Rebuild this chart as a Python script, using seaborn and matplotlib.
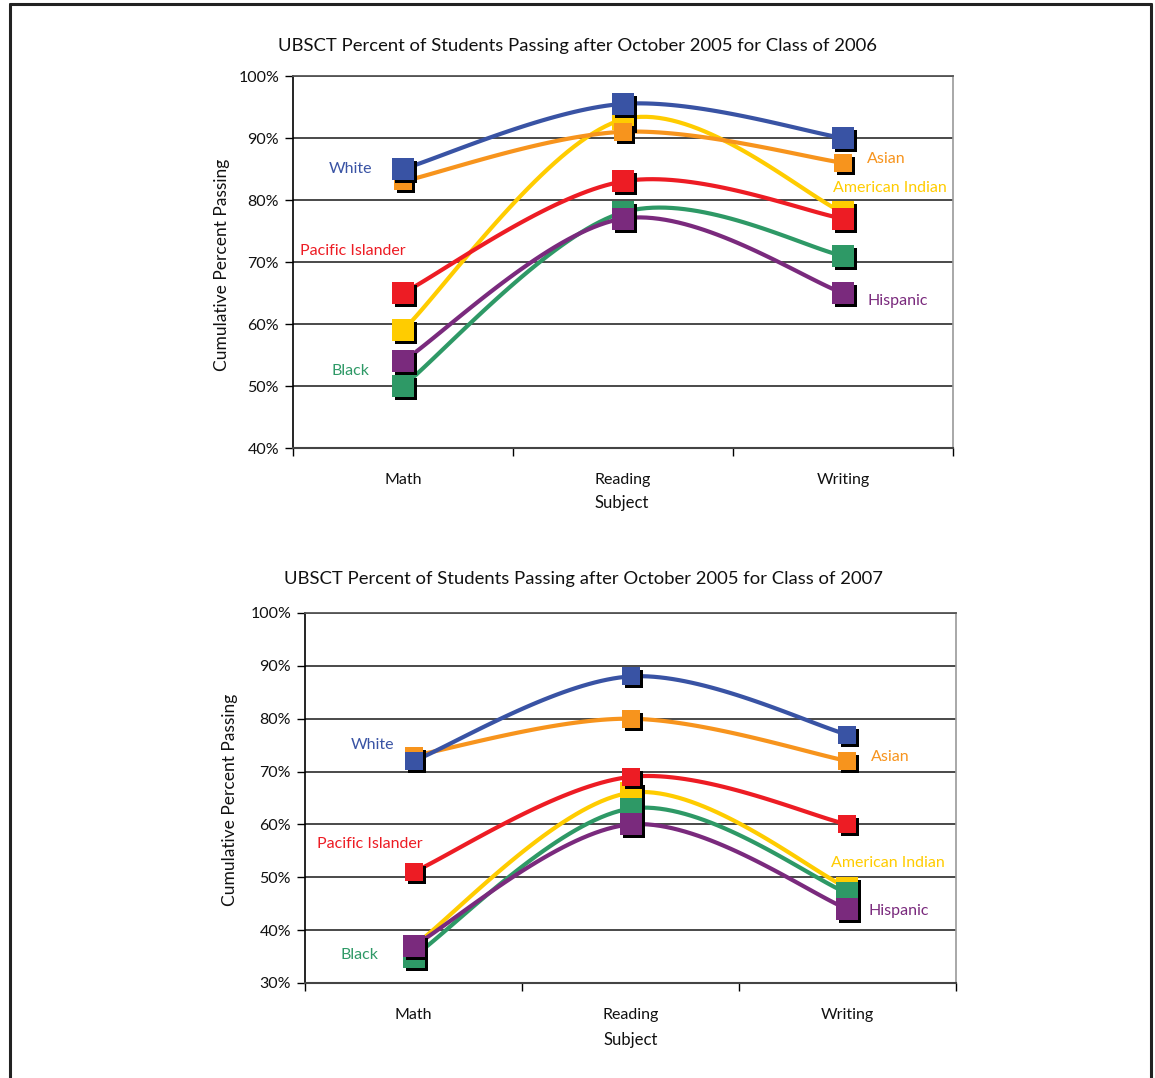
import numpy as np
import pandas as pd
import matplotlib
matplotlib.use("Agg")
import matplotlib.pyplot as plt
from matplotlib.lines import Line2D
from matplotlib.transforms import offset_copy
from matplotlib.ticker import FixedLocator, FuncFormatter
import seaborn as sns

sns.set_theme(style="white")
plt.rcParams["font.family"] = ["Lato", "DejaVu Sans"]

# ---- data ----------------------------------------------------------------
subjects = ["Math", "Reading", "Writing"]
groups = ["American Indian", "Asian", "Black", "Hispanic", "Pacific Islander", "White"]

class_2006 = {
    "American Indian": [59, 93, 78],
    "Asian": [83, 91, 86],
    "Black": [50, 78, 71],
    "Hispanic": [54, 77, 65],
    "Pacific Islander": [65, 83, 77],
    "White": [85, 95.5, 90],
}
class_2007 = {
    "American Indian": [37, 66, 48],
    "Asian": [73, 80, 72],
    "Black": [35, 63, 47],
    "Hispanic": [37, 60, 44],
    "Pacific Islander": [51, 69, 60],
    "White": [72, 88, 77],
}

titles = [
    "UBSCT Percent of Students Passing after October 2005 for Class of 2006",
    "UBSCT Percent of Students Passing after October 2005 for Class of 2007",
]

# ---- style ---------------------------------------------------------------
colors = {
    "American Indian": "#FFCC00",
    "Asian": "#F7941D",
    "Black": "#2E9966",
    "Hispanic": "#7A2A7D",
    "Pacific Islander": "#ED1C24",
    "White": "#3953A4",
}

W, H = 1155, 1078
fig = plt.figure(figsize=(W / 100, H / 100), dpi=100)


def px_axes(left, top, right, bottom):
    return fig.add_axes([left / W, 1 - bottom / H, (right - left) / W, (bottom - top) / H])


def smooth_curve(vals, n=40):
    """Catmull-Rom style smoothing between category points."""
    pts = np.column_stack([np.arange(len(vals), dtype=float), np.asarray(vals, float)])
    ext = np.vstack([pts[0], pts, pts[-1]])
    xs, ys = [], []
    for i in range(len(pts) - 1):
        p0, p1, p2, p3 = ext[i], ext[i + 1], ext[i + 2], ext[i + 3]
        m1 = (p2 - p0) / 2
        m2 = (p3 - p1) / 2
        t = np.linspace(0, 1, n)[:, None]
        h00 = 2 * t**3 - 3 * t**2 + 1
        h10 = t**3 - 2 * t**2 + t
        h01 = -2 * t**3 + 3 * t**2
        h11 = t**3 - t**2
        seg = h00 * p1 + h10 * m1 + h01 * p2 + h11 * m2
        if i > 0:
            seg = seg[1:]
        xs.append(seg[:, 0])
        ys.append(seg[:, 1])
    return np.concatenate(xs), np.concatenate(ys)


panels = [
    dict(data=class_2006, box=(293, 76, 953, 448), ylim=(40, 100),
         big={"American Indian", "Black", "Hispanic", "Pacific Islander", "White"},
         title_xy=(578, 46), ylab_xy=(222, 265), xlab_xy=(622, 503),
         labels={
             "White": (-0.24, 85.0, "center"),
             "Pacific Islander": (-0.23, 71.8, "center"),
             "Black": (-0.24, 52.4, "center"),
             "Asian": (2.11, 86.6, "left"),
             "American Indian": (1.955, 81.9, "left"),
             "Hispanic": (2.11, 63.7, "left"),
         }),
    dict(data=class_2007, box=(305, 613, 956, 983), ylim=(30, 100),
         big={"American Indian", "Black", "Hispanic"},
         title_xy=(584, 579), ylab_xy=(230, 800), xlab_xy=(631, 1040),
         labels={
             "White": (-0.19, 75.0, "center"),
             "Pacific Islander": (-0.20, 56.3, "center"),
             "Black": (-0.25, 35.3, "center"),
             "Asian": (2.11, 72.7, "left"),
             "American Indian": (1.925, 52.7, "left"),
             "Hispanic": (2.095, 43.6, "left"),
         }),
]

for title, p in zip(titles, panels):
    ax = px_axes(*p["box"])
    data = p["data"]

    # smoothed lines
    rows = []
    for g in groups:
        xs, ys = smooth_curve(data[g])
        for k, (xv, yv) in enumerate(zip(xs, ys)):
            rows.append({"group": g, "order": k, "x": xv, "y": yv})
    curves = pd.DataFrame(rows)
    sns.lineplot(data=curves, x="x", y="y", hue="group", hue_order=groups,
                 palette=colors, sort=False, estimator=None, units="group",
                 linewidth=3.0, legend=False, ax=ax, zorder=3)

    # square markers with drop shadow
    shadow_tr = offset_copy(ax.transData, fig=fig, x=3, y=-3, units="dots")
    for i, g in enumerate(groups):
        pts = pd.DataFrame({"x": np.arange(len(subjects)), "y": data[g]})
        s = 250 if g in p["big"] else 175
        sns.scatterplot(data=pts, x="x", y="y", marker="s", s=s, color="black",
                        linewidth=0, ax=ax, transform=shadow_tr, zorder=4 + 2 * i,
                        legend=False)
        sns.scatterplot(data=pts, x="x", y="y", marker="s", s=s, color=colors[g],
                        linewidth=0, ax=ax, zorder=5 + 2 * i, legend=False)

    # series labels
    for g, (lx, ly, ha) in p["labels"].items():
        ax.text(lx, ly, g, color=colors[g], fontsize=11.5, ha=ha, va="center", zorder=20)

    # axes formatting
    y0, y1 = p["ylim"]
    ax.set_xlim(-0.5, 2.5)
    ax.set_ylim(y0, y1)
    ax.set_xlabel("")
    ax.set_ylabel("")
    ax.yaxis.set_major_locator(FixedLocator(np.arange(y0, y1 + 1, 10)))
    ax.yaxis.set_major_formatter(FuncFormatter(lambda v, _: f"{v:.0f}%"))
    ax.set_xticks(range(len(subjects)))
    ax.set_xticklabels(subjects)
    ax.xaxis.set_minor_locator(FixedLocator([-0.5, 0.5, 1.5, 2.5]))
    ax.tick_params(axis="x", which="both", bottom=True)
    ax.tick_params(axis="x", which="major", length=0, pad=18, labelsize=11.5, colors="#111111")
    ax.tick_params(axis="x", which="minor", length=6, width=1, color="black", direction="out")
    ax.tick_params(axis="y", which="major", left=True, length=6, width=1, color="black",
                   direction="out", pad=4, labelsize=11.5, labelcolor="#111111")
    ax.grid(axis="y", color="#3a3a3a", linewidth=1.3)
    ax.grid(axis="x", visible=False)
    ax.set_axisbelow(True)
    ax.spines["left"].set_color("black")
    ax.spines["left"].set_linewidth(1.2)
    ax.spines["bottom"].set_color("#444444")
    ax.spines["bottom"].set_linewidth(1.5)
    ax.spines["right"].set_color("#9a9a9a")
    ax.spines["right"].set_linewidth(1.2)
    ax.spines["top"].set_color("#555555")
    ax.spines["top"].set_linewidth(1.3)

    tx, ty = p["title_xy"]
    fig.text(tx / W, 1 - ty / H, title, ha="center", va="center", fontsize=13.3, color="#111111")
    lx, ly = p["ylab_xy"]
    fig.text(lx / W, 1 - ly / H, "Cumulative Percent Passing", rotation=90,
             ha="center", va="center", fontsize=12.5, color="#111111")
    sx, sy = p["xlab_xy"]
    fig.text(sx / W, 1 - sy / H, "Subject", ha="center", va="center", fontsize=12, color="#111111")

# page frame
frame_kw = dict(transform=fig.transFigure, color="#222222", linewidth=2.2)
fig.add_artist(Line2D([10 / W, 10 / W], [0, 1 - 4 / H], **frame_kw))
fig.add_artist(Line2D([1151 / W, 1151 / W], [0, 1 - 4 / H], **frame_kw))
fig.add_artist(Line2D([10 / W, 1151 / W], [1 - 4 / H, 1 - 4 / H], **frame_kw))

fig.savefig("out.png", dpi=100)
